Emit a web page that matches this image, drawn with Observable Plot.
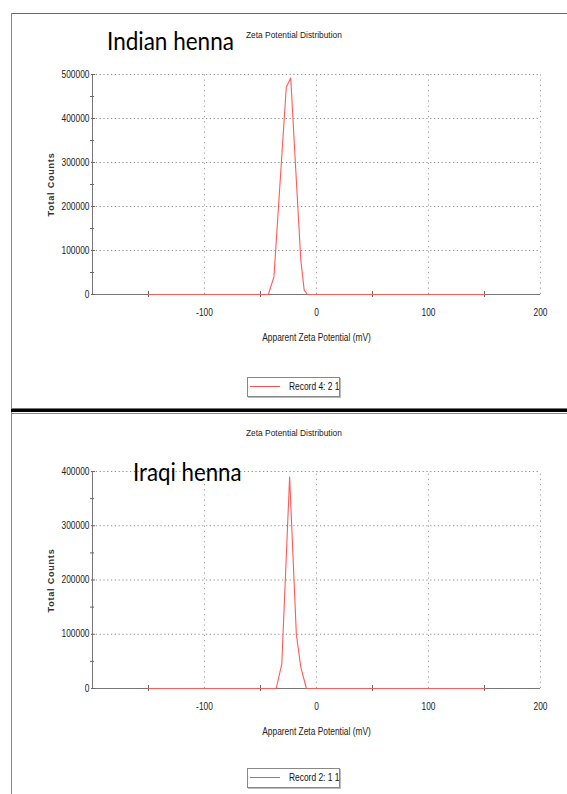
<!DOCTYPE html>
<html>
<head>
<meta charset="utf-8">
<script src="https://cdn.jsdelivr.net/npm/d3@7"></script>
<script src="https://cdn.jsdelivr.net/npm/@observablehq/plot@0.6"></script>
<style>
  html, body { margin: 0; padding: 0; background: #fff; }
  #page { position: relative; width: 567px; height: 794px; overflow: hidden; background: #fff;
          font-family: "Liberation Sans", Arial, sans-serif; }
  .abs { position: absolute; }
  .chart { position: absolute; left: 0; }
  .big { position: absolute; font-family: Lato, "Open Sans", sans-serif; color: #000; white-space: nowrap; line-height: 1; transform-origin: left center; }
  .small { position: absolute; font-size: 9px; color: #222; white-space: nowrap; line-height: 1; transform-origin: left center; transform: scaleX(0.93); }
  .ylab { position: absolute; font-family: "Liberation Sans", Arial, sans-serif; font-weight: bold; font-size: 9px;
          letter-spacing: 0.8px; color: #333; white-space: nowrap; transform-origin: center; line-height: 1; }
  .legend { position: absolute; border: 1px solid #888; box-shadow: 1px 1px 0 #bbb; background: #fff; }
  .legend .sw { position: absolute; left: 2px; top: 8px; width: 30px; height: 1px; background: #ff4d4d; }
  .legend .tx { position: absolute; left: 41px; top: 4px; font-size: 10px; color: #111; white-space: nowrap; line-height: 1; transform-origin: left center; transform: scaleX(0.84); }
</style>
</head>
<body>
<div id="page"></div>
<script>
// ---- data ----
const xDomain = [-200, 200];
const xMajorTicks = [-100, 0, 100, 200];
const xMinorTicks = [-150, -50, 50, 150];

const indianMV     = [-150, -43, -38, -27, -23, -19, -14, -11, -8, 150];
const indianCounts = [0, 0, 40000, 471000, 492000, 305000, 78000, 10000, 0, 0];
const indianYTicks = [0, 100000, 200000, 300000, 400000, 500000];
const indianYMinor = [50000, 150000, 250000, 350000, 450000];

const iraqiMV      = [-150, -36, -31, -24, -18, -14, -9, 150];
const iraqiCounts  = [0, 0, 45000, 390000, 100000, 39000, 0, 0];
const iraqiYTicks  = [0, 100000, 200000, 300000, 400000];
const iraqiYMinor  = [50000, 150000, 250000, 350000];

const panelTitles = ["Indian henna", "Iraqi henna"];
const chartTitle = "Zeta Potential Distribution";
const xLabel = "Apparent Zeta Potential (mV)";
const yLabel = "Total Counts";
const legendLabels = ["Record 4: 2 1", "Record 2: 1 1"];

const page = document.getElementById("page");
const fontStack = '"Liberation Sans", Arial, sans-serif';

function makeChart(mv, counts, yTicks, yMinor, marginTop, height) {
  const data = mv.map((x, i) => ({x, y: counts[i]}));
  const yMax = yTicks[yTicks.length - 1];
  const svg = Plot.plot({
    width: 567,
    height,
    marginLeft: 92,
    marginRight: 27,
    marginTop,
    marginBottom: 50,
    style: {background: "transparent", overflow: "visible", fontFamily: fontStack, fontSize: "10px", color: "#222"},
    x: {domain: xDomain},
    y: {domain: [0, yMax]},
    marks: [
      // dotted grid
      Plot.ruleY(yTicks.filter(d => d > 0), {stroke: "#8a8a8a", strokeDasharray: "1.2,2.6", strokeWidth: 1}),
      Plot.ruleX(xMajorTicks, {y1: 0, y2: yMax, stroke: "#9a9a9a", strokeDasharray: "1.2,4", strokeWidth: 1}),
      // axes lines
      Plot.ruleX([xDomain[0]], {y1: 0, y2: yMax, stroke: "#777", strokeWidth: 1}),
      Plot.ruleY([0], {stroke: "#777", strokeWidth: 1.2}),
      // minor ticks
      Plot.ruleX(xMinorTicks, {y1: 0, y2: 0, insetTop: -3, insetBottom: -3, stroke: "#666"}),
      Plot.ruleY(yMinor, {x1: xDomain[0], x2: xDomain[0], insetLeft: -2, insetRight: -2, stroke: "#666"}),
      Plot.ruleY(yTicks, {x1: xDomain[0], x2: xDomain[0], insetLeft: -1, insetRight: -3, stroke: "#666"}),
      // series
      Plot.line(data, {x: "x", y: "y", stroke: "#ff5a5a", strokeWidth: 1.1}),
      // axes
      Plot.axisX(xMajorTicks, {tickSize: 0, tickPadding: 14, label: null, fontSize: 10, tickFormat: d => String(d)}),
      Plot.axisY(yTicks, {tickSize: 0, tickPadding: 3, label: null, fontSize: 10, tickFormat: d => String(d)}),
      Plot.text([xLabel], {frameAnchor: "bottom", dy: 43, lineAnchor: "middle", fontSize: 10, fill: "#222"})
    ]
  });
  // condense the text horizontally (narrow font look), keeping each anchor in place
  svg.querySelectorAll("text").forEach(t => {
    const tr = t.getAttribute("transform") || "";
    t.setAttribute("transform", tr + " scale(0.84,1)");
  });
  return svg;
}

function place(el, top) {
  el.classList.add("chart");
  el.style.top = top + "px";
  page.appendChild(el);
}

place(makeChart(indianMV, indianCounts, indianYTicks, indianYMinor, 74, 344), 0);
place(makeChart(iraqiMV, iraqiCounts, iraqiYTicks, iraqiYMinor, 71, 338), 400);

function addDiv(cls, text, css) {
  const d = document.createElement("div");
  d.className = cls;
  if (text != null) d.textContent = text;
  Object.assign(d.style, css);
  page.appendChild(d);
  return d;
}

// frame lines
addDiv("abs", null, {left: "11px", top: "13px", width: "560px", height: "0", borderTop: "1.5px solid #666"});
addDiv("abs", null, {left: "11px", top: "13px", width: "0", height: "800px", borderLeft: "1.5px solid #888"});
addDiv("abs", null, {left: "11px", top: "408px", width: "560px", height: "1px", background: "#777"});
addDiv("abs", null, {left: "11px", top: "409px", width: "560px", height: "3px", background: "#000"});
addDiv("abs", null, {left: "11px", top: "413px", width: "560px", height: "1px", background: "#888"});

// titles
addDiv("big", panelTitles[0], {left: "107px", top: "28px", fontSize: "25px", transform: "scaleX(0.9)"});
addDiv("small", chartTitle, {left: "246px", top: "31px"});
addDiv("small", chartTitle, {left: "246px", top: "429px"});
addDiv("big", panelTitles[1], {left: "133px", top: "459px", fontSize: "25px", transform: "scaleX(0.89)"});

// y labels
const yl1 = addDiv("ylab", yLabel, {});
const yl2 = addDiv("ylab", yLabel, {});
for (const [el, cy] of [[yl1, 184], [yl2, 580]]) {
  const w = el.offsetWidth, h = el.offsetHeight;
  el.style.left = (52 - w / 2) + "px";
  el.style.top = (cy - h / 2) + "px";
  el.style.transform = "rotate(-90deg)";
}

// legends
for (const [i, top] of [[0, 377], [1, 768]]) {
  const lg = addDiv("legend", null, {left: "247px", top: top + "px", width: "91px", height: "18px"});
  const sw = document.createElement("div"); sw.className = "sw"; lg.appendChild(sw);
  const tx = document.createElement("div"); tx.className = "tx"; tx.textContent = legendLabels[i]; lg.appendChild(tx);
}
</script>
</body>
</html>
